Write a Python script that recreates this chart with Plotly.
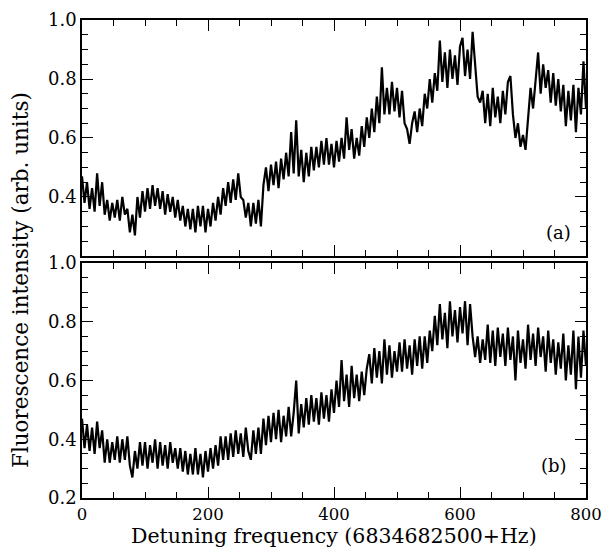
import plotly.graph_objects as go
from plotly.subplots import make_subplots

x_step = 4
x_vals = [i * x_step for i in range(201)]

signal_a = [
    0.47, 0.38, 0.45, 0.36, 0.43, 0.35, 0.48, 0.37, 0.45, 0.34,
    0.39, 0.32, 0.38, 0.33, 0.39, 0.32, 0.40, 0.34,
    0.36, 0.28, 0.34, 0.27,
    0.40, 0.33, 0.42, 0.35, 0.43, 0.36, 0.44, 0.37, 0.43, 0.36, 0.42,
    0.34, 0.41, 0.35, 0.40, 0.33, 0.39, 0.32,
    0.37, 0.30, 0.36, 0.29, 0.36, 0.28, 0.37, 0.30, 0.37, 0.28, 0.36, 0.30, 0.38,
    0.32, 0.40, 0.34, 0.43, 0.37, 0.45, 0.38, 0.46, 0.39, 0.48, 0.40,
    0.39, 0.33, 0.38, 0.30, 0.38, 0.31, 0.39, 0.30,
    0.44, 0.50, 0.42, 0.51, 0.44, 0.52, 0.43,
    0.53, 0.46, 0.55, 0.47, 0.62, 0.48, 0.66, 0.47, 0.56, 0.45, 0.55, 0.47, 0.57,
    0.49, 0.57, 0.50, 0.59, 0.51, 0.60, 0.51, 0.58, 0.50, 0.59, 0.52, 0.60, 0.53,
    0.67, 0.56, 0.63, 0.53, 0.60, 0.54, 0.64, 0.57,
    0.67, 0.60, 0.70, 0.62, 0.74, 0.65, 0.84,
    0.68, 0.77, 0.68, 0.79, 0.69, 0.77, 0.67, 0.76, 0.65,
    0.63, 0.58, 0.65,
    0.69, 0.62, 0.70, 0.64,
    0.75, 0.70, 0.80, 0.72, 0.82, 0.76,
    0.93, 0.79, 0.89, 0.77, 0.90, 0.80, 0.88, 0.78, 0.91, 0.94, 0.81, 0.90, 0.80, 0.96,
    0.85, 0.74, 0.72,
    0.76, 0.65, 0.75, 0.64, 0.77, 0.67, 0.74, 0.65, 0.76, 0.68, 0.79, 0.81,
    0.68, 0.60, 0.65, 0.57, 0.61, 0.56,
    0.67, 0.77, 0.70, 0.81, 0.89, 0.75, 0.85,
    0.77, 0.83, 0.72, 0.82, 0.71, 0.80, 0.69,
    0.78, 0.64, 0.76, 0.66, 0.78, 0.62, 0.77, 0.68, 0.86, 0.70,
]

signal_b = [
    0.47, 0.37, 0.45, 0.36, 0.44, 0.35, 0.46, 0.37,
    0.43, 0.32, 0.40, 0.32, 0.39, 0.33, 0.41, 0.32, 0.40, 0.33, 0.41, 0.31,
    0.27, 0.36,
    0.30, 0.39, 0.31, 0.39, 0.30, 0.38, 0.32, 0.40, 0.30, 0.39, 0.31, 0.38, 0.30, 0.39, 0.32, 0.37, 0.30,
    0.37, 0.29, 0.36, 0.28, 0.35, 0.28, 0.37, 0.28, 0.35, 0.27, 0.36, 0.29, 0.37, 0.30,
    0.38, 0.31, 0.41, 0.33, 0.41, 0.33, 0.42, 0.34, 0.43, 0.35, 0.42, 0.34, 0.44, 0.36,
    0.33, 0.43, 0.35, 0.44, 0.35,
    0.47, 0.38, 0.48, 0.39, 0.49, 0.40, 0.50, 0.39, 0.48, 0.41, 0.51, 0.41, 0.49, 0.60, 0.42,
    0.52, 0.44, 0.54, 0.45, 0.55, 0.46, 0.54, 0.45, 0.56, 0.47, 0.55, 0.46, 0.57,
    0.49, 0.60, 0.51, 0.67, 0.53, 0.62, 0.51, 0.65, 0.54, 0.62, 0.53, 0.63, 0.55,
    0.64, 0.69, 0.59, 0.71, 0.61, 0.70, 0.59, 0.74, 0.62, 0.72, 0.61, 0.70, 0.63,
    0.73, 0.63, 0.74, 0.64, 0.72, 0.62, 0.74, 0.65, 0.75,
    0.64, 0.75, 0.66, 0.77,
    0.70, 0.82, 0.72, 0.86, 0.74, 0.83, 0.71, 0.87, 0.75, 0.84, 0.73, 0.85, 0.76, 0.87, 0.72, 0.86,
    0.75, 0.68, 0.75, 0.66, 0.74,
    0.67, 0.79, 0.66, 0.77, 0.65, 0.78, 0.68, 0.76, 0.65, 0.78,
    0.67, 0.75, 0.60, 0.77, 0.66, 0.74, 0.64, 0.79, 0.67, 0.76,
    0.65, 0.78, 0.68, 0.75, 0.63, 0.77, 0.66, 0.74, 0.62, 0.73,
    0.64, 0.76, 0.60, 0.72, 0.62, 0.77, 0.57, 0.75, 0.61, 0.77, 0.65,
]

x_ticks = [0, 200, 400, 600, 800]
y_ticks_a = [0.4, 0.6, 0.8, 1.0]
y_ticks_b = [0.2, 0.4, 0.6, 0.8, 1.0]
panel_labels = ["(a)", "(b)"]
x_title = "Detuning frequency (6834682500+Hz)"
y_title = "Fluorescence intensity (arb. units)"

FONT = "DejaVu Serif"
TICK_SIZE = 18
X_TICK_SIZE = 16.5
X_TITLE_SIZE = 20.5
Y_TITLE_SIZE = 21.5

fig = make_subplots(rows=2, cols=1, shared_xaxes=False, vertical_spacing=0.0)
fig.add_trace(go.Scatter(x=x_vals[:len(signal_a)], y=signal_a, mode="lines",
                         line=dict(color="black", width=2.2), showlegend=False), row=1, col=1)
fig.add_trace(go.Scatter(x=x_vals[:len(signal_b)], y=signal_b, mode="lines",
                         line=dict(color="black", width=2.2), showlegend=False), row=2, col=1)

axis_common = dict(showline=True, linecolor="black", linewidth=1.5, mirror="allticks",
                   ticks="inside", ticklen=11, tickwidth=1.2, tickcolor="black",
                   showgrid=False, zeroline=False, ticklabeloverflow="allow",
                   automargin=False)
minor_x = dict(dtick=50, ticks="inside", ticklen=6, tickcolor="black", tickwidth=1.2)
minor_y = dict(dtick=0.05, ticks="inside", ticklen=6, tickcolor="black", tickwidth=1.2)
x_font = dict(family=FONT, size=X_TICK_SIZE, color="black")
y_font = dict(family=FONT, size=TICK_SIZE, color="black")

fig.update_xaxes(range=[0, 800], tickvals=x_ticks, showticklabels=False,
                 minor=minor_x, tickfont=x_font, **axis_common, row=1, col=1)
fig.update_xaxes(range=[0, 800], tickvals=x_ticks, minor=minor_x, tickfont=x_font,
                 **axis_common, row=2, col=1)
fig.update_yaxes(range=[0.2, 1.0], tickvals=y_ticks_a, tickformat=".1f",
                 minor=minor_y, tickfont=y_font, **axis_common, row=1, col=1)
fig.update_yaxes(range=[0.2, 1.0], tickvals=y_ticks_b, tickformat=".1f",
                 minor=minor_y, tickfont=y_font, **axis_common, row=2, col=1)

fig.update_layout(
    width=602, height=547,
    margin=dict(l=82, r=16, t=20, b=49, autoexpand=False),
    paper_bgcolor="white", plot_bgcolor="white",
    font=dict(family=FONT, color="black"),
    yaxis=dict(domain=[0.5063, 1.0]),
    yaxis2=dict(domain=[0.0, 0.4916]),
)

fig.add_annotation(text=panel_labels[0], xref="x", yref="y", x=756, y=0.281,
                   xanchor="center", yanchor="middle",
                   showarrow=False, font=dict(family=FONT, size=TICK_SIZE, color="black"))
fig.add_annotation(text=panel_labels[1], xref="x2", yref="y2", x=749, y=0.309,
                   xanchor="center", yanchor="middle",
                   showarrow=False, font=dict(family=FONT, size=TICK_SIZE, color="black"))
fig.add_annotation(text=x_title, xref="paper", yref="paper", x=0.5, y=0, yshift=-38,
                   xanchor="center", yanchor="middle",
                   showarrow=False, font=dict(family=FONT, size=X_TITLE_SIZE, color="black"))
fig.add_annotation(text=y_title, xref="paper", yref="paper", x=0, y=0.456, xshift=-62,
                   xanchor="center", yanchor="middle",
                   textangle=-90, showarrow=False, font=dict(family=FONT, size=Y_TITLE_SIZE, color="black"))

fig.write_html("out.html")
